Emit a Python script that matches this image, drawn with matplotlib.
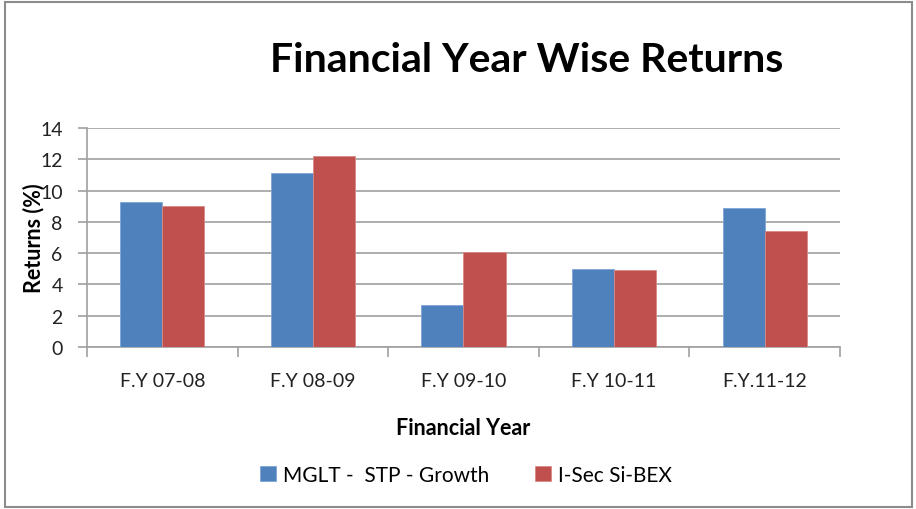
import matplotlib.pyplot as plt
import numpy as np
from matplotlib.patches import Rectangle

plt.rcParams['font.family'] = ['Lato', 'DejaVu Sans']

years = ['F.Y 07-08', 'F.Y 08-09', 'F.Y 09-10', 'F.Y 10-11', 'F.Y.11-12']
mglt = [9.3, 11.1, 2.7, 5.0, 8.9]
isec = [9.0, 12.2, 6.1, 4.95, 7.4]

blue = '#4f81bd'
red = '#c0504d'
grey = '#a0a0a0'

fig = plt.figure(figsize=(9.16, 5.1), dpi=100)
ax = fig.add_axes([0.095, 0.3176, 0.822, 0.4294])

x = np.arange(len(years))
w = 0.28
ax.bar(x - w/2, mglt, w, color=blue, edgecolor='#7ea5d6', linewidth=0.6, label='MGLT -  STP - Growth', zorder=3)
ax.bar(x + w/2, isec, w, color=red, edgecolor='#d98a88', linewidth=0.6, label='I-Sec Si-BEX', zorder=3)

ax.set_xlim(-0.5, len(years) - 0.5)
ax.set_ylim(0, 14)
ax.set_yticks(range(0, 15, 2))
ax.yaxis.grid(True, color=grey, linewidth=1.2, zorder=0)
ax.set_axisbelow(True)

# category labels sit between the boundary ticks
ax.set_xticks(np.arange(-0.5, len(years)), minor=False)
ax.set_xticklabels([])
ax.set_xticks(x, minor=True)
ax.set_xticklabels(years, minor=True, fontsize=14, color='#222222')
ax.tick_params(axis='x', which='minor', length=0, pad=18)
ax.tick_params(axis='x', which='major', length=7, color=grey, width=1.2)
ax.tick_params(axis='y', length=6.5, color=grey, width=1.2, labelsize=14, labelcolor='#222222', pad=11)

for s in ['top', 'right']:
    ax.spines[s].set_visible(False)
for s in ['left', 'bottom']:
    ax.spines[s].set_color(grey)
    ax.spines[s].set_linewidth(1.2)

ax.set_xlabel('Financial Year', fontsize=15.5, fontweight='bold', labelpad=20)
ax.set_ylabel('Returns (%)', fontsize=15.5, fontweight='bold')
ax.yaxis.set_label_coords(-0.056, 0.5)

fig.text(0.575, 0.882, 'Financial Year Wise Returns', fontsize=29.5, fontweight='bold',
         ha='center', va='center')

ax.legend(loc='center', bbox_to_anchor=(0.509, 0.067), bbox_transform=fig.transFigure,
          ncol=2, frameon=False, fontsize=15, handlelength=0.75, handleheight=0.75,
          columnspacing=2.2, handletextpad=0.35)

fig.patches.append(Rectangle((0.006, 0.004), 0.99, 0.99, transform=fig.transFigure,
                             fill=False, edgecolor='#8c8c8c', linewidth=1.5))

fig.savefig('out.png', dpi=100)
